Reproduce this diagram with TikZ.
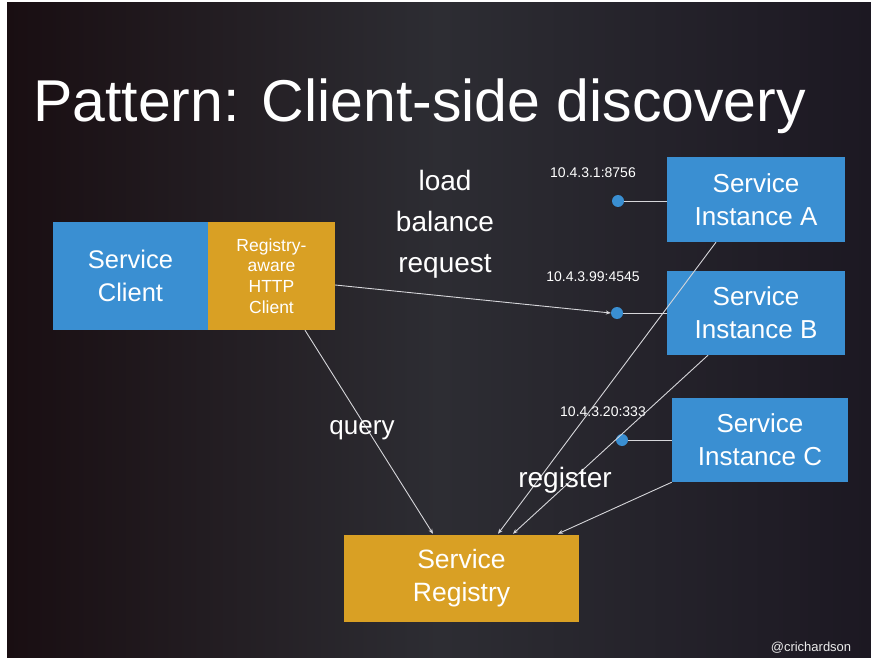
\documentclass[tikz,border=0pt]{standalone}
\usepackage{fontspec}
\setmainfont{Liberation Sans}
\usetikzlibrary{arrows.meta,calc}
\definecolor{bgL}{HTML}{190E12}
\definecolor{bgM}{HTML}{2D2D33}
\definecolor{bgR}{HTML}{1C1822}
\definecolor{sblue}{HTML}{3A8FD2}
\definecolor{sorange}{HTML}{D9A024}
\definecolor{lineC}{HTML}{D6D6DA}
\begin{document}
\begin{tikzpicture}[x=1pt,y=-1pt,
  bluebox/.style={fill=sblue, draw=none, inner sep=0pt, text=white, align=center},
  orangebox/.style={fill=sorange, draw=none, inner sep=0pt, text=white, align=center},
  dot/.style={circle, fill=sblue, inner sep=0pt, minimum size=12pt},
  conn/.style={draw=lineC, line width=0.9pt},
  arr/.style={conn, -{Stealth[length=5pt,width=4pt]}},
  lbl/.style={text=white, align=center, inner sep=0pt},
  ip/.style={text=white, inner sep=0pt, font=\fontsize{14}{16}\selectfont}]
\useasboundingbox (0,0) rectangle (871,658);
\fill[white] (0,0) rectangle (871,658);
\shade[left color=bgL, right color=bgR, middle color=bgM] (7,3) rectangle (871,658);

% title
\node[lbl, anchor=base west, font=\fontsize{59}{66}\selectfont] (title) at (33,122) {Pattern: Client-side discovery};

% boxes
\node[bluebox, minimum width=155pt, minimum height=108pt, font=\fontsize{25.5}{33}\selectfont] (client) at (130.5,276) {Service\\Client};
\node[orangebox, minimum width=127pt, minimum height=108pt, font=\fontsize{17.5}{20.7}\selectfont] (rclient) at (271.5,276) {Registry-\\aware\\HTTP\\Client};
\node[bluebox, minimum width=178pt, minimum height=85pt, font=\fontsize{26}{33}\selectfont] (instA) at (756,199.5) {Service\\Instance A};
\node[bluebox, minimum width=178pt, minimum height=84pt, font=\fontsize{26}{33}\selectfont] (instB) at (756,313) {Service\\Instance B};
\node[bluebox, minimum width=176pt, minimum height=84pt, font=\fontsize{26}{33}\selectfont] (instC) at (760,440) {Service\\Instance C};
\node[orangebox, minimum width=235pt, minimum height=87pt, font=\fontsize{26.5}{33}\selectfont] (registry) at (461.5,578.5) {Service\\Registry};

% endpoints
\node[dot] (dA) at (618,201) {};
\node[dot] (dB) at (617,313) {};
\node[dot] (dC) at (622,440) {};
\draw[conn] (dA) -- (dA -| instA.west);
\draw[conn] (dB) -- (dB -| instB.west);
\draw[conn] (dC) -- (dC -| instC.west);

\node[ip] (ipA) at (593,173) {10.4.3.1:8756};
\node[ip] (ipB) at (593,277) {10.4.3.99:4545};
\node[ip] (ipC) at (603,412) {10.4.3.20:333};

% connectors
\draw[arr] ($(rclient.east)+(0,9)$) -- (dB.west);
\draw[arr] ($(rclient.south)+(33.5,0)$) -- ($(registry.north)+(-28.5,-1)$);
\draw[arr] ($(instA.south)+(-40,0)$) -- ($(registry.north)+(36.5,-1)$);
\draw[arr] ($(instB.south)+(-48,0)$) -- ($(registry.north)+(51.5,-1)$);
\draw[arr] (instC.south west) -- ($(registry.north)+(96.5,-1)$);

% labels
\node[lbl, font=\fontsize{28}{41}\selectfont] (lb) at (445,224) {load\\balance\\request};
\node[lbl, font=\fontsize{26}{30}\selectfont] (query) at (362,430) {query};
\node[lbl, font=\fontsize{28}{32}\selectfont] (register) at (565,480) {register};
\node[text=white!85!gray, inner sep=0pt, font=\fontsize{13}{15}\selectfont] (credit) at (811,648) {@crichardson};
\end{tikzpicture}
\end{document}
